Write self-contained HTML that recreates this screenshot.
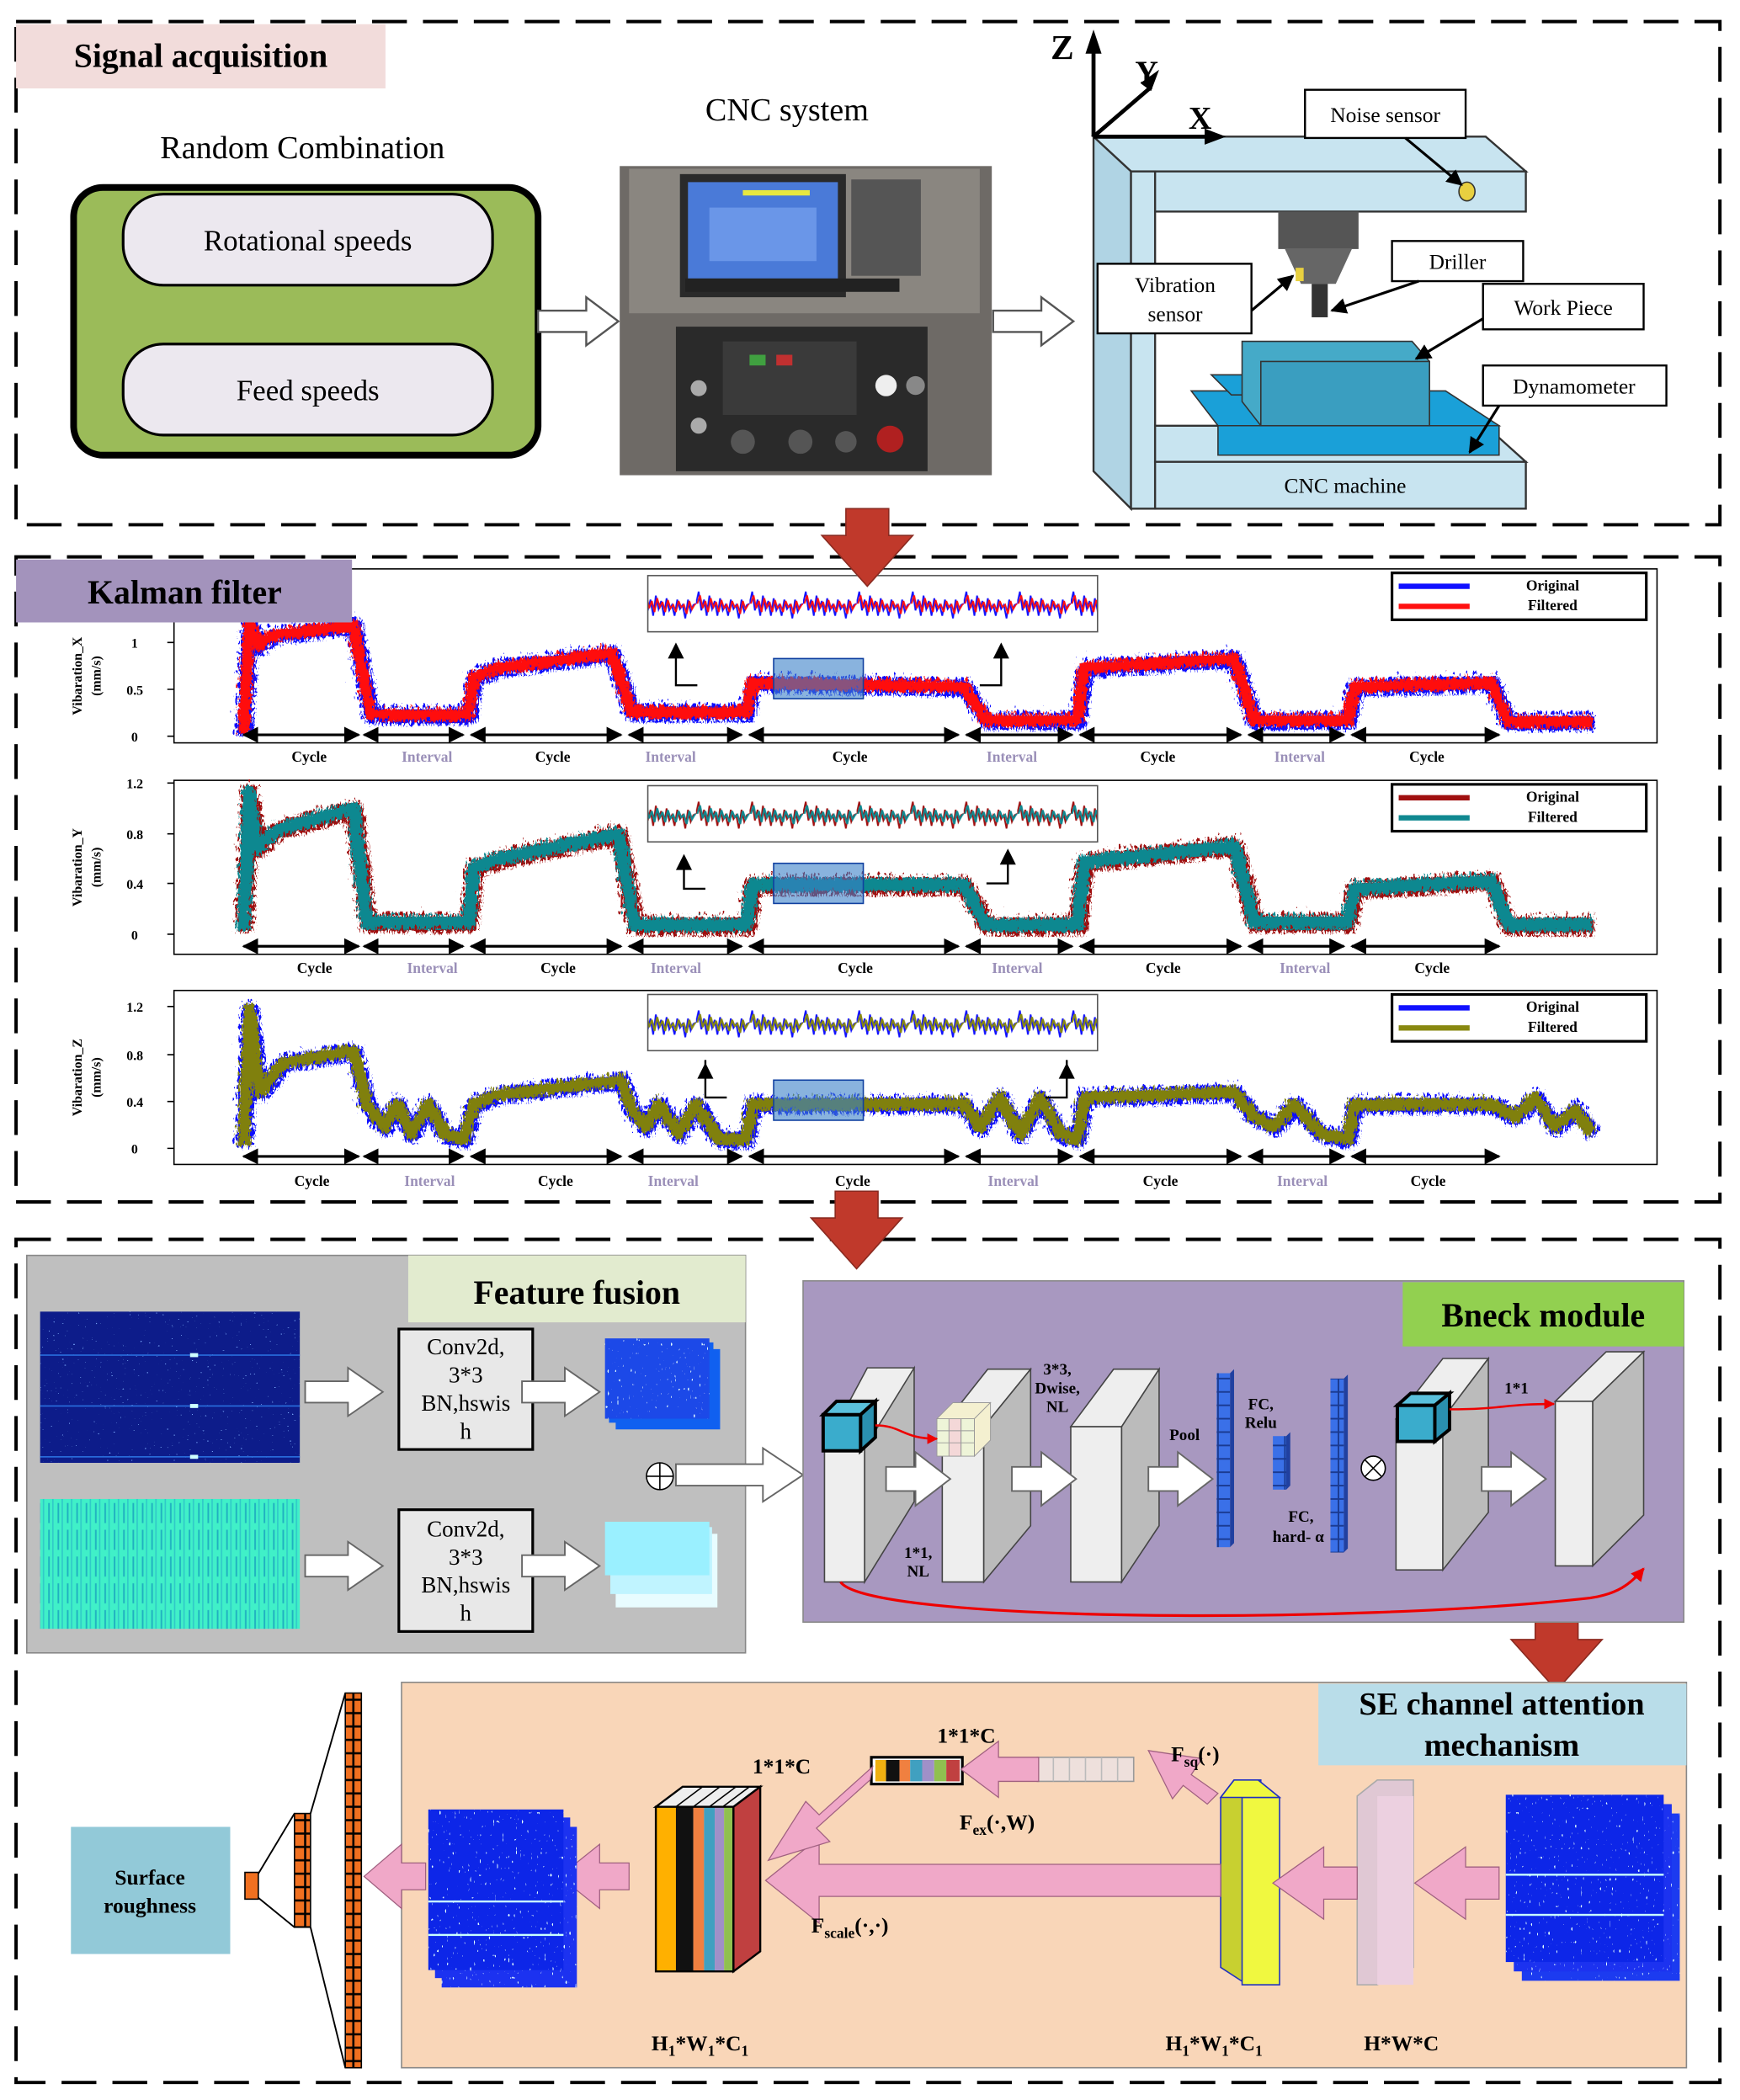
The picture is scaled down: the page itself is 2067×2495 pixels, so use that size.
<!DOCTYPE html>
<html><head><meta charset="utf-8"><style>
html,body{margin:0;padding:0;background:#fff}
svg{display:block}
text{font-family:"Liberation Serif",serif}
.b{font-weight:bold}
.t{font-size:11px;font-weight:bold;text-anchor:middle}
.iv{fill:#9a8fb8}
.yl{font-size:10px;font-weight:bold;text-anchor:end}
</style></head><body>
<svg width="2067" height="2495" viewBox="0 0 1300 1569" xmlns="http://www.w3.org/2000/svg">
<defs>
<marker id="ah" viewBox="0 0 10 10" refX="9" refY="5" markerWidth="6" markerHeight="6" orient="auto-start-reverse"><path d="M0,0L10,5L0,10z" fill="#000"/></marker>
<marker id="rh" viewBox="0 0 10 10" refX="9" refY="5" markerWidth="5" markerHeight="5" orient="auto"><path d="M0,0L10,5L0,10z" fill="#e00"/></marker>
<filter id="nz1" x="-5%" y="-30%" width="110%" height="160%"><feTurbulence type="turbulence" baseFrequency="0.5 0.2" numOctaves="2" seed="3"/><feDisplacementMap in="SourceGraphic" scale="11" xChannelSelector="R" yChannelSelector="G"/></filter>
<filter id="nz2" x="-5%" y="-30%" width="110%" height="160%"><feTurbulence type="turbulence" baseFrequency="0.5 0.2" numOctaves="2" seed="9"/><feDisplacementMap in="SourceGraphic" scale="8" xChannelSelector="R" yChannelSelector="G"/></filter>
<filter id="sp" x="0" y="0" width="100%" height="100%"><feTurbulence type="fractalNoise" baseFrequency="0.7 0.3" numOctaves="1" seed="4" result="t"/><feColorMatrix in="t" type="matrix" values="0 0 0 0 0.75  0 0 0 0 1  0 0 0 0 1  22 0 0 0 -15.6" result="d"/><feComposite in="d" in2="SourceGraphic" operator="in" result="c"/><feMerge><feMergeNode in="SourceGraphic"/><feMergeNode in="c"/></feMerge></filter>
<filter id="sp2" x="0" y="0" width="100%" height="100%"><feTurbulence type="fractalNoise" baseFrequency="0.6 0.9" numOctaves="1" seed="7" result="t"/><feColorMatrix in="t" type="matrix" values="0 0 0 0 0.2  0 0 0 0 0.4  0 0 0 0 1  22 0 0 0 -16" result="d"/><feComposite in="d" in2="SourceGraphic" operator="in" result="c"/><feMerge><feMergeNode in="SourceGraphic"/><feMergeNode in="c"/></feMerge></filter>
<pattern id="zz1" patternUnits="userSpaceOnUse" x="0" y="430" width="40" height="42"><path d="M0,21l2,-9l2,14l2,-8l2,12l2,-15l2,10l2,-6l2,11l2,-13l2,9l2,-4l2,8l2,-12l2,7l2,-3l2,10l2,-14l2,9l2,-5l2,-1" fill="none" stroke="#1010ff" stroke-width="1.2"/><path transform="translate(0,6.3) scale(1,0.7)" d="M1,21l2,-9l2,14l2,-8l2,12l2,-15l2,10l2,-6l2,11l2,-13l2,9l2,-4l2,8l2,-12l2,7l2,-3l2,10l2,-14l2,9l2,-5l2,-1" fill="none" stroke="#ff1010" stroke-width="1.2"/></pattern>
<pattern id="zz2" patternUnits="userSpaceOnUse" x="0" y="587" width="40" height="42"><path d="M0,21l2,-9l2,14l2,-8l2,12l2,-15l2,10l2,-6l2,11l2,-13l2,9l2,-4l2,8l2,-12l2,7l2,-3l2,10l2,-14l2,9l2,-5l2,-1" fill="none" stroke="#a01010" stroke-width="1.2"/><path transform="translate(0,6.3) scale(1,0.7)" d="M1,21l2,-9l2,14l2,-8l2,12l2,-15l2,10l2,-6l2,11l2,-13l2,9l2,-4l2,8l2,-12l2,7l2,-3l2,10l2,-14l2,9l2,-5l2,-1" fill="none" stroke="#108890" stroke-width="1.4"/></pattern>
<pattern id="zz3" patternUnits="userSpaceOnUse" x="0" y="743" width="40" height="42"><path d="M0,21l2,-9l2,14l2,-8l2,12l2,-15l2,10l2,-6l2,11l2,-13l2,9l2,-4l2,8l2,-12l2,7l2,-3l2,10l2,-14l2,9l2,-5l2,-1" fill="none" stroke="#1010ff" stroke-width="1.2"/><path transform="translate(0,6.3) scale(1,0.7)" d="M1,21l2,-9l2,14l2,-8l2,12l2,-15l2,10l2,-6l2,11l2,-13l2,9l2,-4l2,8l2,-12l2,7l2,-3l2,10l2,-14l2,9l2,-5l2,-1" fill="none" stroke="#888810" stroke-width="1.4"/></pattern>
<pattern id="vl" patternUnits="userSpaceOnUse" width="7" height="20"><rect width="7" height="20" fill="#40f0c8"/><rect x="1" y="3" width="1.2" height="15" fill="#20b0c0"/><rect x="4" y="0" width="1" height="20" fill="#30c8c8"/></pattern>
<pattern id="bc" patternUnits="userSpaceOnUse" width="10" height="10"><rect x="0.3" y="0.3" width="9.4" height="9.4" fill="#3a70e8" stroke="#1a3a90" stroke-width="0.6"/></pattern>
<pattern id="oc" patternUnits="userSpaceOnUse" width="12" height="10"><rect x="0.4" y="0.4" width="11.2" height="9.2" fill="#f07020" stroke="#000" stroke-width="0.8"/></pattern>
<g id="segs" stroke="#000" stroke-width="2">
<line x1="182" y1="0" x2="268" y2="0" marker-start="url(#ah)" marker-end="url(#ah)"/>
<line x1="272" y1="0" x2="346" y2="0" marker-start="url(#ah)" marker-end="url(#ah)"/>
<line x1="352" y1="0" x2="464" y2="0" marker-start="url(#ah)" marker-end="url(#ah)"/>
<line x1="470" y1="0" x2="554" y2="0" marker-start="url(#ah)" marker-end="url(#ah)"/>
<line x1="560" y1="0" x2="716" y2="0" marker-start="url(#ah)" marker-end="url(#ah)"/>
<line x1="722" y1="0" x2="801" y2="0" marker-start="url(#ah)" marker-end="url(#ah)"/>
<line x1="807" y1="0" x2="927" y2="0" marker-start="url(#ah)" marker-end="url(#ah)"/>
<line x1="933" y1="0" x2="1004" y2="0" marker-start="url(#ah)" marker-end="url(#ah)"/>
<line x1="1010" y1="0" x2="1120" y2="0" marker-start="url(#ah)" marker-end="url(#ah)"/>
</g>
</defs>
<rect width="1300" height="1569" fill="#fff"/>
<g fill="none" stroke="#000" stroke-width="2.5" stroke-dasharray="26,12">
<rect x="12" y="16" width="1273" height="376"/>
<rect x="12" y="416" width="1273" height="482"/>
<rect x="12" y="926" width="1273" height="630"/>
</g>
<!-- Section 1 -->
<rect x="12" y="18" width="276" height="48" fill="#f2dcdb"/>
<text x="150" y="50" font-size="25" class="b" text-anchor="middle">Signal acquisition</text>
<text x="226" y="118" font-size="24" text-anchor="middle">Random Combination</text>
<rect x="55" y="140" width="347" height="200" rx="22" fill="#9bbb59" stroke="#000" stroke-width="5"/>
<rect x="92" y="145" width="276" height="68" rx="30" fill="#ece8ef" stroke="#000" stroke-width="2"/>
<rect x="92" y="257" width="276" height="68" rx="30" fill="#ece8ef" stroke="#000" stroke-width="2"/>
<text x="230" y="187" font-size="22" text-anchor="middle">Rotational speeds</text>
<text x="230" y="299" font-size="22" text-anchor="middle">Feed speeds</text>
<path d="M402,232h36v-10l24,18l-24,18v-10h-36z" fill="#fff" stroke="#555" stroke-width="1.5"/>
<path d="M742,232h36v-10l24,18l-24,18v-10h-36z" fill="#fff" stroke="#555" stroke-width="1.5"/>
<text x="588" y="90" font-size="24" text-anchor="middle">CNC system</text>
<rect x="463" y="124" width="278" height="231" fill="#6e6a66"/>
<rect x="470" y="126" width="262" height="108" fill="#8a8680"/>
<rect x="508" y="130" width="124" height="92" fill="#2a2a2a"/>
<rect x="514" y="136" width="112" height="72" fill="#4a7ad8"/>
<rect x="555" y="142" width="50" height="4" fill="#e8e840"/>
<rect x="530" y="155" width="80" height="40" fill="#6a96e8"/>
<rect x="636" y="134" width="52" height="72" fill="#555"/>
<rect x="512" y="208" width="160" height="10" fill="#222"/>
<rect x="505" y="244" width="188" height="108" fill="#2a2a2a"/>
<rect x="540" y="255" width="100" height="55" fill="#3a3a3a"/>
<rect x="560" y="265" width="12" height="8" fill="#40a040"/><rect x="580" y="265" width="12" height="8" fill="#c03030"/>
<circle cx="662" cy="288" r="8" fill="#eee"/><circle cx="684" cy="288" r="7" fill="#888"/>
<circle cx="665" cy="328" r="10" fill="#b02020"/>
<circle cx="555" cy="330" r="9" fill="#555"/><circle cx="598" cy="330" r="9" fill="#555"/><circle cx="632" cy="330" r="8" fill="#555"/>
<circle cx="522" cy="290" r="6" fill="#aaa"/><circle cx="522" cy="318" r="6" fill="#aaa"/>
<!-- machine -->
<polygon points="817,102 1110,102 1140,128 845,128" fill="#c8e4f0" stroke="#333" stroke-width="1.5"/>
<rect x="845" y="128" width="295" height="30" fill="#c8e4f0" stroke="#333" stroke-width="1.5"/>
<polygon points="817,102 845,128 845,380 817,352" fill="#b0d4e4" stroke="#333" stroke-width="1.5"/>
<rect x="845" y="128" width="18" height="252" fill="#c8e4f0" stroke="#333" stroke-width="1.5"/>
<polygon points="863,318 1110,318 1140,345 863,345" fill="#c8e4f0" stroke="#333" stroke-width="1.5"/>
<rect x="863" y="345" width="277" height="35" fill="#c8e4f0" stroke="#333" stroke-width="1.5"/>
<text x="1005" y="368" font-size="16" text-anchor="middle">CNC machine</text>
<polygon points="890,292 1080,292 1120,318 910,318" fill="#1aa0d8" stroke="#333"/>
<polygon points="910,318 1120,318 1120,340 910,340" fill="#1aa0d8" stroke="#333"/>
<polygon points="905,280 935,280 950,295 920,295" fill="#1aa0d8" stroke="#333"/>
<polygon points="928,255 1055,255 1068,270 1068,318 942,318 928,300" fill="#45aac8" stroke="#333"/>
<rect x="942" y="270" width="126" height="48" fill="#3a9ec0" stroke="#333"/>
<rect x="955" y="158" width="60" height="28" fill="#555"/>
<polygon points="960,186 1010,186 998,212 972,212" fill="#666"/>
<rect x="980" y="212" width="12" height="25" fill="#333"/>
<rect x="968" y="200" width="6" height="10" fill="#e8d040"/>
<ellipse cx="1096" cy="143" rx="6" ry="7" fill="#e8d040" stroke="#333"/>
<line x1="817" y1="102" x2="817" y2="30" stroke="#000" stroke-width="3"/><path d="M811,40l6,-18l6,18z"/>
<text x="785" y="44" font-size="26" class="b">Z</text>
<line x1="817" y1="102" x2="860" y2="65" stroke="#000" stroke-width="3"/><path d="M852,62l14,-10l-6,16z"/>
<text x="848" y="62" font-size="24" class="b">Y</text>
<line x1="817" y1="102" x2="905" y2="102" stroke="#000" stroke-width="3"/><path d="M900,96l16,6l-16,6z"/>
<text x="888" y="96" font-size="24" class="b">X</text>
<g fill="#fff" stroke="#000" stroke-width="1.5">
<rect x="975" y="67" width="120" height="36"/><rect x="820" y="197" width="115" height="52"/>
<rect x="1040" y="180" width="98" height="30"/><rect x="1108" y="212" width="120" height="34"/><rect x="1108" y="273" width="137" height="30"/></g>
<g font-size="16" text-anchor="middle"><text x="1035" y="91">Noise sensor</text><text x="878" y="218">Vibration</text><text x="878" y="240">sensor</text>
<text x="1089" y="201">Driller</text><text x="1168" y="235">Work Piece</text><text x="1176" y="294">Dynamometer</text></g>
<g stroke="#000" stroke-width="2"><line x1="1050" y1="103" x2="1092" y2="138" marker-end="url(#ah)"/>
<line x1="935" y1="232" x2="966" y2="206" marker-end="url(#ah)"/><line x1="1060" y1="210" x2="995" y2="232" marker-end="url(#ah)"/>
<line x1="1108" y1="238" x2="1058" y2="268" marker-end="url(#ah)"/><line x1="1120" y1="303" x2="1098" y2="338" marker-end="url(#ah)"/></g>

<!-- Section 2 charts -->
<g fill="#fff" stroke="#000" stroke-width="1">
<rect x="130" y="425" width="1108" height="130"/><rect x="130" y="583" width="1108" height="130"/><rect x="130" y="740" width="1108" height="130"/></g>
<g stroke="#000"><path d="M125,550h5M125,515h5M125,480h5M125,698h5M125,660h5M125,623h5M125,585h5M125,858h5M125,823h5M125,788h5M125,752h5"/></g>
<g class="yl"><text x="103" y="554">0</text><text x="107" y="519">0.5</text><text x="103" y="484">1</text>
<text x="103" y="702">0</text><text x="107" y="664">0.4</text><text x="107" y="627">0.8</text><text x="107" y="589">1.2</text>
<text x="103" y="862">0</text><text x="107" y="827">0.4</text><text x="107" y="792">0.8</text><text x="107" y="756">1.2</text></g>
<g font-size="10" class="b" text-anchor="middle">
<text transform="translate(61,505) rotate(-90)">Vibaration_X</text><text transform="translate(75,505) rotate(-90)">(mm/s)</text>
<text transform="translate(61,648) rotate(-90)">Vibaration_Y</text><text transform="translate(75,648) rotate(-90)">(mm/s)</text>
<text transform="translate(61,805) rotate(-90)">Vibaration_Z</text><text transform="translate(75,805) rotate(-90)">(mm/s)</text></g>
<g fill="none" stroke-linejoin="round">
<polyline filter="url(#nz1)" stroke="#1010ff" stroke-width="12" points="180,546 184,465 192,480 200,473 262,465 275,532 348,532 352,504 370,497 455,486 470,530 556,530 560,508 718,511 735,536 803,536 808,497 920,490 935,536 1005,536 1010,511 1112,508 1125,537 1188,537"/>
<polyline filter="url(#nz2)" stroke="#ff1010" stroke-width="9" points="180,546 184,465 192,480 200,473 262,465 275,532 348,532 352,504 370,497 455,486 470,530 556,530 560,508 718,511 735,536 803,536 808,497 920,490 935,536 1005,536 1010,511 1112,508 1125,537 1188,537"/>
<polyline filter="url(#nz1)" stroke="#a01010" stroke-width="13" points="180,693 184,590 190,632 205,618 262,602 272,687 348,687 352,646 370,640 460,621 472,689 556,689 560,659 718,659 735,689 803,689 808,642 920,630 935,687 1005,687 1010,662 1112,656 1125,689 1188,689"/>
<polyline filter="url(#nz2)" stroke="#108890" stroke-width="10" points="180,693 184,590 190,632 205,618 262,602 272,687 348,687 352,646 370,640 460,621 472,689 556,689 560,659 718,659 735,689 803,689 808,642 920,630 935,687 1005,687 1010,662 1112,656 1125,689 1188,689"/>
<polyline filter="url(#nz1)" stroke="#1010ff" stroke-width="12" points="180,854 184,752 192,814 210,792 262,783 272,823 285,840 295,823 305,845 318,823 330,845 345,849 352,823 370,816 462,805 470,827 480,840 490,823 505,845 518,823 535,849 556,849 560,823 718,823 730,840 745,818 760,845 775,818 790,845 803,849 808,818 920,814 935,832 950,840 965,823 985,845 1005,849 1010,823 1112,823 1130,832 1145,818 1160,840 1175,827 1188,845"/>
<polyline filter="url(#nz2)" stroke="#808010" stroke-width="9" points="180,854 184,752 192,814 210,792 262,783 272,823 285,840 295,823 305,845 318,823 330,845 345,849 352,823 370,816 462,805 470,827 480,840 490,823 505,845 518,823 535,849 556,849 560,823 718,823 730,840 745,818 760,845 775,818 790,845 803,849 808,818 920,814 935,832 950,840 965,823 985,845 1005,849 1010,823 1112,823 1130,832 1145,818 1160,840 1175,827 1188,845"/>
</g>
<rect x="484" y="430" width="336" height="42" fill="url(#zz1)" stroke="#555"/>
<rect x="484" y="587" width="336" height="42" fill="url(#zz2)" stroke="#555"/>
<rect x="484" y="743" width="336" height="42" fill="url(#zz3)" stroke="#555"/>
<g fill="#3a80c8" fill-opacity="0.6" stroke="#1040a0"><rect x="578" y="492" width="67" height="30"/><rect x="578" y="645" width="67" height="30"/><rect x="578" y="807" width="67" height="30"/></g>
<g fill="none" stroke="#000" stroke-width="1.5"><path d="M505,488v24h16M732,512h16v-24M511,646v18h16M737,660h16v-18M527,792v28h16M781,820h16v-28"/></g>
<g><path d="M499,492l6,-12l6,12zM742,492l6,-12l6,12zM505,650l6,-12l6,12zM747,646l6,-12l6,12zM521,806l6,-12l6,12zM791,806l6,-12l6,12z"/></g>
<g fill="#fff" stroke="#000" stroke-width="2"><rect x="1040" y="428" width="190" height="35"/><rect x="1040" y="586" width="190" height="35"/><rect x="1040" y="743" width="190" height="35"/></g>
<g stroke-width="4"><line x1="1045" y1="438" x2="1098" y2="438" stroke="#1010ff"/><line x1="1045" y1="453" x2="1098" y2="453" stroke="#ff1010"/>
<line x1="1045" y1="596" x2="1098" y2="596" stroke="#a01010"/><line x1="1045" y1="611" x2="1098" y2="611" stroke="#108890"/>
<line x1="1045" y1="753" x2="1098" y2="753" stroke="#1010ff"/><line x1="1045" y1="768" x2="1098" y2="768" stroke="#888810"/></g>
<g class="t"><text x="1160" y="441">Original</text><text x="1160" y="456">Filtered</text><text x="1160" y="599">Original</text><text x="1160" y="614">Filtered</text><text x="1160" y="756">Original</text><text x="1160" y="771">Filtered</text></g>
<use href="#segs" transform="translate(0,549)"/><use href="#segs" transform="translate(0,707)"/><use href="#segs" transform="translate(0,864)"/>
<g class="t">
<text x="231" y="569">Cycle</text><text x="319" y="569" class="iv">Interval</text><text x="413" y="569">Cycle</text><text x="501" y="569" class="iv">Interval</text><text x="635" y="569">Cycle</text><text x="756" y="569" class="iv">Interval</text><text x="865" y="569">Cycle</text><text x="971" y="569" class="iv">Interval</text><text x="1066" y="569">Cycle</text>
<text x="235" y="727">Cycle</text><text x="323" y="727" class="iv">Interval</text><text x="417" y="727">Cycle</text><text x="505" y="727" class="iv">Interval</text><text x="639" y="727">Cycle</text><text x="760" y="727" class="iv">Interval</text><text x="869" y="727">Cycle</text><text x="975" y="727" class="iv">Interval</text><text x="1070" y="727">Cycle</text>
<text x="233" y="886">Cycle</text><text x="321" y="886" class="iv">Interval</text><text x="415" y="886">Cycle</text><text x="503" y="886" class="iv">Interval</text><text x="637" y="886">Cycle</text><text x="757" y="886" class="iv">Interval</text><text x="867" y="886">Cycle</text><text x="973" y="886" class="iv">Interval</text><text x="1067" y="886">Cycle</text></g>
<rect x="12" y="418" width="251" height="47" fill="#a393bc"/>
<text x="138" y="451" font-size="25" class="b" text-anchor="middle">Kalman filter</text>
<path d="M632,380h32v20h18l-34,38l-34,-38h18z" fill="#c0392b" stroke="#8a2a20"/>
<path d="M624,890h32v20h18l-34,38l-34,-38h18z" fill="#c0392b" stroke="#8a2a20"/>
<path d="M1147,1205h32v20h18l-34,38l-34,-38h18z" fill="#c0392b" stroke="#8a2a20"/>
<!-- Section 3 -->
<rect x="20" y="938" width="537" height="297" fill="#bfbfbf" stroke="#888"/>
<rect x="305" y="938" width="252" height="50" fill="#e2ebcf"/>
<text x="431" y="974" font-size="25" class="b" text-anchor="middle">Feature fusion</text>
<rect x="30" y="980" width="194" height="113" fill="#0a1a8a" filter="url(#sp2)"/>
<g fill="#2a70e0"><rect x="30" y="1012" width="194" height="1"/><rect x="30" y="1050" width="194" height="1"/><rect x="30" y="1088" width="194" height="1"/></g>
<g fill="#cfffff"><rect x="142" y="1011" width="6" height="3"/><rect x="142" y="1049" width="6" height="3"/><rect x="142" y="1087" width="6" height="3"/></g>
<rect x="30" y="1120" width="194" height="97" fill="url(#vl)"/>
<rect x="298" y="993" width="100" height="90" fill="#e8e8e8" stroke="#000" stroke-width="2"/>
<rect x="298" y="1128" width="100" height="91" fill="#e8e8e8" stroke="#000" stroke-width="2"/>
<g font-size="17" text-anchor="middle"><text x="348" y="1012">Conv2d,</text><text x="348" y="1033">3*3</text><text x="348" y="1054">BN,hswis</text><text x="348" y="1075">h</text>
<text x="348" y="1148">Conv2d,</text><text x="348" y="1169">3*3</text><text x="348" y="1190">BN,hswis</text><text x="348" y="1211">h</text></g>
<g fill="#fff" stroke="#666" stroke-width="1.2">
<path d="M228,1032h32v-10l26,18l-26,18v-10h-32z"/><path d="M390,1032h32v-10l26,18l-26,18v-10h-32z"/>
<path d="M228,1162h32v-10l26,18l-26,18v-10h-32z"/><path d="M390,1162h32v-10l26,18l-26,18v-10h-32z"/>
<path d="M505,1094h65v-12l30,20l-30,20v-12h-65z"/></g>
<rect x="460" y="1008" width="78" height="60" fill="#1060f0"/><rect x="455" y="1003" width="78" height="60" fill="#1060f0"/><rect x="452" y="1000" width="78" height="60" fill="#1a4ae8" filter="url(#sp)"/>
<rect x="460" y="1146" width="76" height="55" fill="#e8fcff"/><rect x="456" y="1141" width="76" height="50" fill="#c0f4ff"/><rect x="452" y="1137" width="78" height="40" fill="#9af0ff"/>
<circle cx="493" cy="1103" r="10" fill="#fff" stroke="#000"/><path d="M483,1103h20M493,1093v20" stroke="#000"/>
<!-- Bneck -->
<rect x="600" y="957" width="658" height="255" fill="#a898c0" stroke="#888"/>
<rect x="1048" y="958" width="210" height="48" fill="#92d050"/>
<text x="1153" y="991" font-size="25" class="b" text-anchor="middle">Bneck module</text>
<g stroke="#444" stroke-width="1">
<polygon points="616,1082 648,1022 683,1022 652,1082" fill="#eee"/>
<rect x="616" y="1082" width="30" height="100" fill="#eee"/><polygon points="646,1082 683,1022 683,1122 646,1182" fill="#bbb"/>
<polygon points="704,1066 738,1023 770,1023 735,1066" fill="#eee"/><rect x="704" y="1066" width="31" height="116" fill="#eee"/><polygon points="735,1066 770,1023 770,1140 735,1182" fill="#bbb"/>
<polygon points="800,1066 832,1023 866,1023 838,1066" fill="#eee"/><rect x="800" y="1066" width="38" height="116" fill="#eee"/><polygon points="838,1066 866,1023 866,1140 838,1182" fill="#bbb"/>
<polygon points="1043,1060 1078,1015 1112,1015 1078,1060" fill="#eee"/><rect x="1043" y="1060" width="35" height="113" fill="#eee"/><polygon points="1078,1060 1112,1015 1112,1130 1078,1173" fill="#bbb"/>
<polygon points="1162,1047 1200,1010 1228,1010 1190,1047" fill="#eee"/><rect x="1162" y="1047" width="28" height="123" fill="#eee"/><polygon points="1190,1047 1228,1010 1228,1132 1190,1170" fill="#bbb"/>
</g>
<g stroke="#000" stroke-width="2.5"><rect x="615" y="1057" width="28" height="27" fill="#3aaccc"/><polygon points="615,1057 625,1047 654,1047 643,1057" fill="#5ac0dc"/><polygon points="643,1057 654,1047 654,1074 643,1084" fill="#2a90b0"/>
<rect x="1044" y="1050" width="28" height="27" fill="#3aaccc"/><polygon points="1044,1050 1054,1041 1083,1041 1072,1050" fill="#5ac0dc"/><polygon points="1072,1050 1083,1041 1083,1068 1072,1077" fill="#2a90b0"/></g>
<g stroke="#999" stroke-width="0.6"><rect x="700" y="1060" width="28" height="28" fill="#eef4d8"/><rect x="709" y="1060" width="9" height="28" fill="#f4d8d8"/><polygon points="700,1060 712,1048 740,1048 728,1060" fill="#f4f0d0"/><polygon points="728,1060 740,1048 740,1076 728,1088" fill="#f4f0d0"/>
<path d="M700,1069h28M700,1078h28M718,1060v28"/></g>
<path d="M654,1065c20,0 20,10 46,10" fill="none" stroke="#e00" stroke-width="1.6" marker-end="url(#rh)"/>
<path d="M1083,1053c40,0 40,-4 78,-4" fill="none" stroke="#e00" stroke-width="1.6" marker-end="url(#rh)"/>
<path d="M628,1182c20,30 380,32 560,12c20,-3 30,-10 40,-22" fill="none" stroke="#e00" stroke-width="2" marker-end="url(#rh)"/>
<g fill="#fff" stroke="#666" stroke-width="1.2">
<path d="M662,1096h22v-11l26,20l-26,20v-11h-22z"/><path d="M756,1096h22v-11l26,20l-26,20v-11h-22z"/>
<path d="M858,1096h22v-11l26,20l-26,20v-11h-22z"/><path d="M1107,1096h22v-11l26,20l-26,20v-11h-22z"/></g>
<rect x="909" y="1026" width="10" height="130" fill="url(#bc)"/><polygon points="919,1026 922,1023 922,1153 919,1156" fill="#2040a0"/>
<rect x="951" y="1073" width="10" height="40" fill="url(#bc)"/><polygon points="961,1073 964,1070 964,1110 961,1113" fill="#2040a0"/>
<rect x="994" y="1030" width="10" height="130" fill="url(#bc)"/><polygon points="1004,1030 1007,1027 1007,1157 1004,1160" fill="#2040a0"/>
<circle cx="1026" cy="1097" r="9" fill="#fff" stroke="#000"/><path d="M1020,1091l12,12M1032,1091l-12,12" stroke="#000"/>
<g font-size="12" class="b" text-anchor="middle"><text x="790" y="1027">3*3,</text><text x="790" y="1041">Dwise,</text><text x="790" y="1055">NL</text>
<text x="885" y="1076">Pool</text><text x="942" y="1053">FC,</text><text x="942" y="1067">Relu</text><text x="972" y="1137">FC,</text><text x="970" y="1152">hard- α</text>
<text x="686" y="1164">1*1,</text><text x="686" y="1178">NL</text><text x="1133" y="1041">1*1</text></g>
<!-- SE -->
<rect x="300" y="1257" width="960" height="288" fill="#f9d6b8" stroke="#888"/>
<rect x="985" y="1258" width="275" height="61" fill="#b9dde9"/>
<text x="1122" y="1281" font-size="24" class="b" text-anchor="middle">SE channel attention</text>
<text x="1122" y="1312" font-size="24" class="b" text-anchor="middle">mechanism</text>
<rect x="1137" y="1355" width="118" height="125" fill="#1a3af0" filter="url(#sp)"/><rect x="1131" y="1348" width="118" height="125" fill="#1a30f0" filter="url(#sp)"/><rect x="1125" y="1341" width="118" height="125" fill="#1028e8" filter="url(#sp)"/>
<g fill="#c8ffff"><rect x="1125" y="1400" width="118" height="1.5"/><rect x="1125" y="1430" width="118" height="1.5"/></g>
<polygon points="1014,1342 1029,1330 1056,1330 1056,1470 1029,1483 1014,1483" fill="#e0c8d4" stroke="#aaa"/>
<rect x="1029" y="1342" width="27" height="141" fill="#ecd0e0"/>
<polygon points="912,1343 922,1330 942,1330 942,1470 932,1483 912,1470" fill="#c8d030" stroke="#2030c0"/>
<rect x="928" y="1343" width="28" height="140" fill="#f0f840" stroke="#2030c0"/>
<polygon points="912,1343 922,1330 940,1330 956,1343 928,1343" fill="#f0f840" stroke="#2030c0"/>
<rect x="775" y="1313" width="72" height="18" fill="#eee0dc" stroke="#999"/>
<g stroke="#bbb"><path d="M787,1313v18M799,1313v18M811,1313v18M823,1313v18M835,1313v18"/></g>
<rect x="651" y="1313" width="68" height="20" fill="#fff" stroke="#000" stroke-width="2"/>
<rect x="654" y="1315" width="8" height="16" fill="#f0b010"/><rect x="662" y="1315" width="10" height="16" fill="#111"/><rect x="672" y="1315" width="8" height="16" fill="#f08040"/><rect x="680" y="1315" width="9" height="16" fill="#40a0c0"/><rect x="689" y="1315" width="9" height="16" fill="#a090c8"/><rect x="698" y="1315" width="9" height="16" fill="#90c050"/><rect x="707" y="1315" width="10" height="16" fill="#c04040"/>
<g fill="#f0a8c8" stroke="#a06080" stroke-width="0.8">
<path d="M1120,1395h-25v-15l-38,27l38,27v-15h25z"/>
<path d="M1014,1395h-25v-15l-38,27l38,27v-15h25z"/>
<path d="M912,1393h-300v-20l-40,32l40,32v-20h300z"/>
<path d="M776,1313h-30v-12l-28,21l28,21v-12h30z"/>
<path d="M910,1340l-20,-14l8,-12l-40,-6l18,36l8,-10l18,14z"/>
<path d="M652,1320l-40,36l-10,-10l-28,44l46,-14l-10,-10l40,-36z"/>
<path d="M470,1392h-22v-14l-30,24l30,24v-14h22z"/>
<path d="M318,1392h-18v-14l-28,24l28,24v-14h18z"/>
</g>
<polygon points="490,1350 510,1335 568,1335 548,1350" fill="#eee" stroke="#000" stroke-width="1.5"/>
<rect x="490" y="1350" width="15" height="123" fill="#ffb000"/><rect x="505" y="1350" width="13" height="123" fill="#111"/><rect x="518" y="1350" width="8" height="123" fill="#f08040"/><rect x="526" y="1350" width="8" height="123" fill="#40a0c0"/><rect x="534" y="1350" width="7" height="123" fill="#a090c8"/><rect x="541" y="1350" width="7" height="123" fill="#90c050"/>
<rect x="490" y="1350" width="58" height="123" fill="none" stroke="#000" stroke-width="1.5"/>
<polygon points="548,1350 568,1335 568,1458 548,1473" fill="#c04040" stroke="#000" stroke-width="1.5"/>
<g stroke="#000"><path d="M505,1350l20,-15M518,1350l20,-15M530,1350l20,-15M540,1350l20,-15"/></g>
<rect x="330" y="1365" width="101" height="120" fill="#1a30f0" filter="url(#sp)"/><rect x="325" y="1358" width="101" height="120" fill="#1a30f0" filter="url(#sp)"/><rect x="320" y="1352" width="101" height="120" fill="#1028e8" filter="url(#sp)"/>
<g fill="#c8ffff"><rect x="320" y="1420" width="101" height="1.5"/><rect x="320" y="1445" width="101" height="1.5"/></g>
<g font-size="16" class="b" text-anchor="middle"><text x="584" y="1325">1*1*C</text><text x="722" y="1302">1*1*C</text>
<text x="893" y="1316">F<tspan font-size="11" dy="4">sq</tspan><tspan dy="-4">(·)</tspan></text>
<text x="745" y="1367">F<tspan font-size="11" dy="4">ex</tspan><tspan dy="-4">(·,W)</tspan></text>
<text x="635" y="1444">F<tspan font-size="11" dy="4">scale</tspan><tspan dy="-4">(·,·)</tspan></text>
<text x="523" y="1532">H<tspan font-size="11" dy="4">1</tspan><tspan dy="-4">*W</tspan><tspan font-size="11" dy="4">1</tspan><tspan dy="-4">*C</tspan><tspan font-size="11" dy="4">1</tspan></text>
<text x="907" y="1532">H<tspan font-size="11" dy="4">1</tspan><tspan dy="-4">*W</tspan><tspan font-size="11" dy="4">1</tspan><tspan dy="-4">*C</tspan><tspan font-size="11" dy="4">1</tspan></text>
<text x="1047" y="1532">H*W*C</text></g>
<rect x="53" y="1365" width="119" height="95" fill="#92c9d8"/>
<text x="112" y="1408" font-size="16" class="b" text-anchor="middle">Surface</text>
<text x="112" y="1429" font-size="16" class="b" text-anchor="middle">roughness</text>
<g stroke="#000" stroke-width="1.2"><path d="M193,1400l27,-45M193,1418l27,22M232,1355l26,-90M232,1440l26,105"/></g>
<rect x="183" y="1399" width="10" height="20" fill="#f07020" stroke="#000"/>
<rect x="258" y="1265" width="12" height="280" fill="url(#oc)" stroke="#000"/>
<rect x="220" y="1355" width="12" height="85" fill="url(#oc)" stroke="#000"/>
</svg>
</body></html>
